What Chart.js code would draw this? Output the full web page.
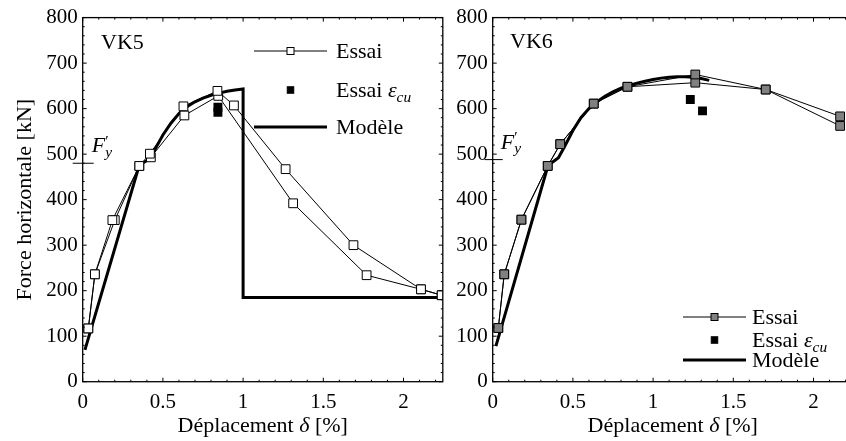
<!DOCTYPE html>
<html>
<head>
<meta charset="utf-8">
<script src="https://cdn.jsdelivr.net/npm/chart.js@4.4.1/dist/chart.umd.min.js"></script>
<style>
  body { margin: 0; background: #fff; overflow: hidden; width: 846px; height: 441px; position: relative; }
  canvas { position: absolute; top: 0; }
  #vk5 { left: 0; }
  #vk6 { left: 450px; }
</style>
</head>
<body>
<canvas id="vk5" width="450" height="441"></canvas>
<canvas id="vk6" width="410" height="441"></canvas>
<script>
// ---------- data: VK5 ----------
const vk5EssaiAx = [0.035, 0.076, 0.185, 0.353, 0.419, 0.628, 0.840, 0.943, 1.265, 1.688, 2.109, 2.238];
const vk5EssaiAy = [117, 236, 355, 474, 501, 605, 639, 607, 467, 300, 203, 190];
const vk5EssaiBx = [0.035, 0.076, 0.200, 0.353, 0.425, 0.634, 0.845, 1.312, 1.770, 2.109, 2.238];
const vk5EssaiBy = [117, 236, 355, 474, 493, 585, 628, 392, 234, 203, 190];
const vk5EpsX = [0.843, 0.843];
const vk5EpsY = [603, 592];
const vk5ModelX = [0.014, 0.353, 0.42, 0.45, 0.50, 0.55, 0.60, 0.65, 0.70, 0.75, 0.80, 0.85, 0.90, 0.95, 1.0, 1.0, 2.245];
const vk5ModelY = [70, 476, 490, 510, 542, 568, 589, 604, 615, 623, 629, 634, 638, 641, 643, 185, 185];
const vk5Fy = 480;

// ---------- data: VK6 ----------
const vk6EssaiAx = [0.035, 0.072, 0.179, 0.343, 0.421, 0.630, 0.840, 1.263, 1.702, 2.166];
const vk6EssaiAy = [118, 236, 356, 474, 522, 611, 648, 675, 642, 583];
const vk6EssaiBx = [0.035, 0.072, 0.179, 0.343, 0.421, 0.630, 0.840, 1.263, 1.702, 2.166];
const vk6EssaiBy = [118, 236, 356, 474, 522, 611, 648, 657, 642, 562];
const vk6EpsX = [1.232, 1.308];
const vk6EpsY = [620, 595];
const vk6ModelX = [0.02, 0.345, 0.41, 0.45, 0.50, 0.55, 0.60, 0.65, 0.70, 0.75, 0.80, 0.85, 0.90, 0.95, 1.0, 1.05, 1.10, 1.15, 1.20, 1.25, 1.30, 1.35];
const vk6ModelY = [78, 475, 492, 518, 552, 580, 600, 615, 627, 637, 645, 651, 656, 660, 664, 667, 669, 670, 670, 669, 666, 662];
const vk6Fy = 488;

// ---------- axes ----------
const xMax = 2.245;
const yMax = 800;
const xMajor = 0.5, xMinor = 0.1;
const yMajor = 100, yMinor = 20;

const FONT = "'Liberation Serif', 'Times New Roman', serif";
const FS = 22;
const TICK_FS = 21;

const pts = (xs, ys) => xs.map((x, i) => ({ x, y: ys[i] }));

// pieces of text; style 'i' italic, 'sub' subscript, 'sup' superscript, 'back' = start under previous piece
function pieceFont(s, size) {
  const small = s.includes('sub') || s.includes('sup');
  return `${s.includes('i') ? 'italic ' : ''}${small ? size * 0.7 : size}px ${FONT}`;
}

function richWidth(ctx, parts, size) {
  let w = 0;
  parts.forEach(([t, s]) => {
    ctx.font = pieceFont(s, size);
    w += ctx.measureText(t).width;
  });
  return w;
}

function richText(ctx, parts, x, y, size, align = 'left') {
  let cx = align === 'center' ? x - richWidth(ctx, parts, size) / 2 : x;
  let prevW = 0;
  ctx.textBaseline = 'alphabetic';
  ctx.textAlign = 'left';
  parts.forEach(([t, s]) => {
    ctx.font = pieceFont(s, size);
    let dy = 0;
    if (s.includes('sub')) dy = size * 0.22;
    if (s.includes('sup')) dy = -size * 0.3;
    if (s.includes('back')) cx -= prevW;
    ctx.fillText(t, cx, y + dy);
    prevW = ctx.measureText(t).width;
    cx += prevW;
  });
}

function square(ctx, x, y, side, fill) {
  ctx.fillStyle = fill;
  ctx.fillRect(x - side / 2, y - side / 2, side, side);
  ctx.lineWidth = 1;
  ctx.strokeStyle = '#000';
  ctx.strokeRect(x - side / 2, y - side / 2, side, side);
}

// frame, inward ticks, F'y mark, panel name, legend and titles
const decor = {
  id: 'decor',
  afterDraw(chart, args, o) {
    const ctx = chart.ctx;
    const { left, right, top, bottom } = chart.chartArea;
    const xs = chart.scales.x, ys = chart.scales.y;
    ctx.save();
    ctx.strokeStyle = '#000';
    ctx.fillStyle = '#000';

    ctx.lineWidth = 1.3;
    ctx.strokeRect(left, top, right - left, bottom - top);

    ctx.lineWidth = 1;
    ctx.beginPath();
    for (let v = 0; v <= xMax + 1e-9; v += xMinor) {
      const px = xs.getPixelForValue(v);
      const major = Math.abs(v / xMajor - Math.round(v / xMajor)) < 1e-6;
      const len = major ? 4 : 2;
      ctx.moveTo(px, bottom); ctx.lineTo(px, bottom - len);
      ctx.moveTo(px, top); ctx.lineTo(px, top + len);
    }
    for (let v = 0; v <= yMax; v += yMinor) {
      const py = ys.getPixelForValue(v);
      const len = v % yMajor === 0 ? 4 : 2;
      ctx.moveTo(left, py); ctx.lineTo(left + len, py);
      ctx.moveTo(right, py); ctx.lineTo(right - len, py);
    }
    ctx.stroke();

    // F'y mark on the force axis
    const fyPx = ys.getPixelForValue(o.fy);
    ctx.lineWidth = 1;
    ctx.beginPath();
    ctx.moveTo(left - o.fyOut, fyPx);
    ctx.lineTo(left + o.fyIn, fyPx);
    ctx.stroke();
    ctx.fillStyle = '#000';
    richText(ctx, [['F', 'i'], ['′', 'sup'], ['y', 'isub back']], left + o.fyIn - 2, fyPx - 11, FS);

    // panel name
    ctx.font = `${FS}px ${FONT}`;
    ctx.textAlign = 'left';
    ctx.textBaseline = 'middle';
    ctx.fillText(o.name, o.nameX, o.nameY);

    // legend
    const L = o.legend;
    const mid = (L.x0 + L.x1) / 2;
    ctx.lineWidth = 1;
    ctx.beginPath();
    ctx.moveTo(L.x0, L.rows[0]); ctx.lineTo(L.x1, L.rows[0]);
    ctx.stroke();
    square(ctx, mid, L.rows[0], 7, o.markerFill);
    square(ctx, mid, L.rows[1], 6.5, '#000');
    ctx.lineWidth = 3;
    ctx.beginPath();
    ctx.moveTo(L.x0, L.rows[2]); ctx.lineTo(L.x1, L.rows[2]);
    ctx.stroke();
    ctx.fillStyle = '#000';
    richText(ctx, [['Essai', '']], L.tx, L.rows[0] + 7, FS);
    richText(ctx, [['Essai ', ''], ['ε', 'i'], ['cu', 'isub']], L.tx, L.rows[1] + 7, FS);
    richText(ctx, [['Modèle', '']], L.tx, L.rows[2] + 7, FS);

    // axis titles
    richText(ctx, [['Déplacement ', ''], ['δ', 'i'], [' [%]', '']], (left + right) / 2, 432, FS, 'center');
    if (o.yTitle) {
      ctx.save();
      ctx.translate(31, (top + bottom) / 2);
      ctx.rotate(-Math.PI / 2);
      richText(ctx, [[o.yTitle, '']], 0, 0, FS, 'center');
      ctx.restore();
    }
    ctx.restore();
  }
};

function makeChart(id, d, opt) {
  return new Chart(document.getElementById(id), {
    type: 'scatter',
    data: {
      datasets: [
        { label: 'Essai εcu', data: pts(d.epsX, d.epsY), showLine: false, pointStyle: 'rect',
          pointRadius: 6.3, backgroundColor: '#000', borderColor: '#000', borderWidth: 0, order: 0 },
        { label: 'Essai', data: pts(d.ax, d.ay), showLine: true, borderColor: '#000', borderWidth: 1,
          pointStyle: 'rect', pointRadius: 6.2, pointBackgroundColor: d.fill, pointBorderColor: '#000',
          pointBorderWidth: 1, order: 1 },
        { label: 'Essai', data: pts(d.bx, d.by), showLine: true, borderColor: '#000', borderWidth: 1,
          pointStyle: 'rect', pointRadius: 6.2, pointBackgroundColor: d.fill, pointBorderColor: '#000',
          pointBorderWidth: 1, order: 1 },
        { label: 'Modèle', data: pts(d.mx, d.my), showLine: true, borderColor: '#000', borderWidth: 3,
          pointRadius: 0, borderJoinStyle: 'miter', order: 2 }
      ]
    },
    options: {
      responsive: false,
      animation: false,
      devicePixelRatio: 1,
      layout: { padding: { top: 17, right: 3, left: 0, bottom: 0 } },
      plugins: {
        legend: { display: false },
        tooltip: { enabled: false },
        decor: opt
      },
      scales: {
        x: {
          type: 'linear', min: 0, max: xMax,
          grid: { display: false, drawTicks: false },
          border: { display: false },
          ticks: { stepSize: xMajor, includeBounds: false, padding: 8, color: '#000',
                   font: { family: FONT, size: TICK_FS },
                   callback: v => String(Math.round(v * 10) / 10) },
          afterFit: s => { s.height = 59.3; }
        },
        y: {
          min: 0, max: yMax,
          grid: { display: false, drawTicks: false },
          border: { display: false },
          ticks: { stepSize: yMajor, padding: 5, color: '#000',
                   font: { family: FONT, size: TICK_FS } },
          afterFit: s => { s.width = opt.yWidth; }
        }
      }
    },
    plugins: [decor]
  });
}

makeChart('vk5', {
  ax: vk5EssaiAx, ay: vk5EssaiAy, bx: vk5EssaiBx, by: vk5EssaiBy,
  epsX: vk5EpsX, epsY: vk5EpsY, mx: vk5ModelX, my: vk5ModelY, fill: '#fff'
}, {
  yWidth: 82.7, fy: vk5Fy, fyOut: 10, fyIn: 11, name: 'VK5', nameX: 101, nameY: 43,
  markerFill: '#fff', yTitle: 'Force horizontale [kN]',
  legend: { x0: 254, x1: 327, tx: 336, rows: [51, 90, 127] }
});

makeChart('vk6', {
  ax: vk6EssaiAx, ay: vk6EssaiAy, bx: vk6EssaiBx, by: vk6EssaiBy,
  epsX: vk6EpsX, epsY: vk6EpsY, mx: vk6ModelX, my: vk6ModelY, fill: '#808080'
}, {
  yWidth: 42.7, fy: vk6Fy, fyOut: 8, fyIn: 10, name: 'VK6', nameX: 60, nameY: 42,
  markerFill: '#808080', yTitle: null,
  legend: { x0: 233, x1: 296, tx: 302, rows: [317, 340, 360] }
});
</script>
</body>
</html>
